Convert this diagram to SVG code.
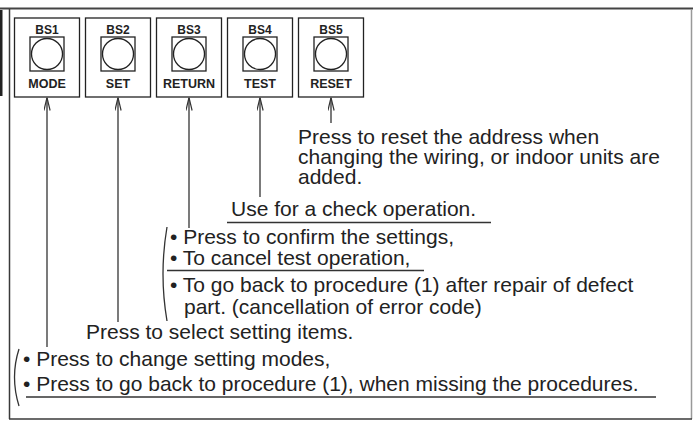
<svg xmlns="http://www.w3.org/2000/svg" width="693" height="421" viewBox="0 0 693 421">
<defs>
<style>
.frame{fill:none;stroke:#3a3a3a;stroke-width:1.5}
.box{fill:#fff;stroke:#222;stroke-width:1.3}
.lbl{font-family:"Liberation Sans",Arial,sans-serif;font-weight:bold;font-size:12.5px;fill:#222;text-anchor:middle}
.bs{font-size:12px}
.t{font-family:"Liberation Sans",Arial,sans-serif;font-size:21px;fill:#222}
.ln{fill:none;stroke:#333;stroke-width:1.3}
.ul{fill:none;stroke:#333;stroke-width:1.3}
</style>
<marker id="ah" viewBox="0 0 13 7" refX="13" refY="3.5" markerWidth="13" markerHeight="7" markerUnits="userSpaceOnUse" orient="auto">
<path d="M0,0.4 L13,3.5 L0,6.6" fill="none" stroke="#333" stroke-width="1.2"/>
</marker>
</defs>
<rect width="693" height="421" fill="#fff"/>
<g id="frame">
<line x1="0" y1="8.5" x2="693" y2="8.5" stroke="#444" stroke-width="2"/>
<line x1="9.5" y1="9" x2="9.5" y2="419" class="frame"/>
<line x1="691.5" y1="9" x2="691.5" y2="419" stroke="#999" stroke-width="1.5"/>
<line x1="9" y1="419" x2="692" y2="419" class="frame"/>
<rect x="0" y="10" width="2.5" height="86" fill="#222"/>
</g>
<g id="bs1">
<rect x="14.5" y="18" width="65" height="79" class="box"/>
<text x="47" y="33.5" class="lbl bs">BS1</text>
<rect x="30" y="37" width="34" height="34" class="box"/>
<circle cx="47" cy="54" r="15.5" class="box"/>
<text x="47" y="88" class="lbl">MODE</text>
</g>
<g id="bs2">
<rect x="85.5" y="18" width="65" height="79" class="box"/>
<text x="118" y="33.5" class="lbl bs">BS2</text>
<rect x="101" y="37" width="34" height="34" class="box"/>
<circle cx="118" cy="54" r="15.5" class="box"/>
<text x="118" y="88" class="lbl">SET</text>
</g>
<g id="bs3">
<rect x="156.5" y="18" width="65" height="79" class="box"/>
<text x="189" y="33.5" class="lbl bs">BS3</text>
<rect x="172" y="37" width="34" height="34" class="box"/>
<circle cx="189" cy="54" r="15.5" class="box"/>
<text x="189" y="88" class="lbl">RETURN</text>
</g>
<g id="bs4">
<rect x="227.5" y="18" width="65" height="79" class="box"/>
<text x="260" y="33.5" class="lbl bs">BS4</text>
<rect x="243" y="37" width="34" height="34" class="box"/>
<circle cx="260" cy="54" r="15.5" class="box"/>
<text x="260" y="88" class="lbl">TEST</text>
</g>
<g id="bs5">
<rect x="298.5" y="18" width="65" height="79" class="box"/>
<text x="331" y="33.5" class="lbl bs">BS5</text>
<rect x="314" y="37" width="34" height="34" class="box"/>
<circle cx="331" cy="54" r="15.5" class="box"/>
<text x="331" y="88" class="lbl">RESET</text>
</g>
<g id="connectors">
<line x1="47" y1="347" x2="47" y2="97.5" class="ln" marker-end="url(#ah)"/>
<line x1="118" y1="322" x2="118" y2="97.5" class="ln" marker-end="url(#ah)"/>
<line x1="189" y1="228" x2="189" y2="97.5" class="ln" marker-end="url(#ah)"/>
<line x1="260" y1="197" x2="260" y2="97.5" class="ln" marker-end="url(#ah)"/>
<line x1="331" y1="123" x2="331" y2="97.5" class="ln" marker-end="url(#ah)"/>
</g>
<g id="note-reset">
<text x="298" y="144" class="t">Press to reset the address when</text>
<text x="298" y="164" class="t">changing the wiring, or indoor units are</text>
<text x="298" y="184" class="t">added.</text>
</g>
<g id="note-test">
<text x="231" y="216" class="t">Use for a check operation.</text>
<line x1="227" y1="222.5" x2="491" y2="222.5" class="ul"/>
</g>
<g id="note-return">
<path d="M167,227 Q159,274 167,321" class="ln"/>
<text x="170" y="244" class="t">• Press to confirm the settings,</text>
<text x="170" y="265" class="t">• To cancel test operation,</text>
<line x1="167" y1="270.5" x2="424" y2="270.5" class="ul"/>
<text x="170" y="292" class="t">• To go back to procedure (1) after repair of defect</text>
<text x="184" y="314" class="t">part. (cancellation of error code)</text>
</g>
<g id="note-set">
<text x="86" y="339" class="t">Press to select setting items.</text>
</g>
<g id="note-mode">
<path d="M19,349 Q10,377 19,406" class="ln"/>
<text x="23" y="366" class="t">• Press to change setting modes,</text>
<text x="23" y="391" class="t">• Press to go back to procedure (1), when missing the procedures.</text>
<line x1="26" y1="397" x2="656" y2="397" class="ul"/>
</g>
</svg>
